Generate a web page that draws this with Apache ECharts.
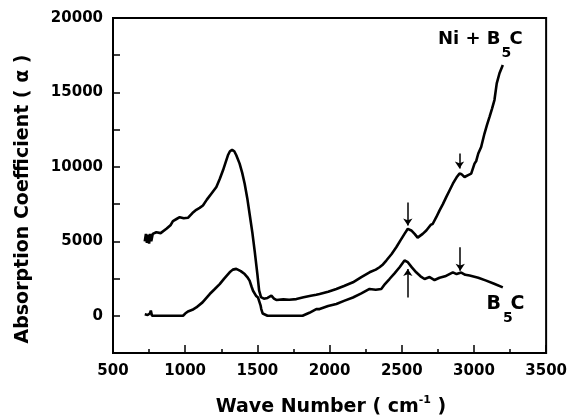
<!DOCTYPE html>
<html>
<head>
<meta charset="utf-8">
<script src="https://cdn.jsdelivr.net/npm/echarts@6/dist/echarts.min.js"></script>
<style>
html,body{margin:0;padding:0;background:#fff;}
#chart{width:570px;height:419px;}
</style>
</head>
<body>
<div id="chart"></div>
<script>
// ---- data ----
const xTicks = [500, 1000, 1500, 2000, 2500, 3000, 3500];
const yTicks = [0, 5000, 10000, 15000, 20000];

// Ni + B5C
const niX = [720,728,735,742,750,757,765,775,800,830,870,900,915,940,962,990,1019,1050,1077,1100,1123,1150,1181,1216,1240,1262,1280,1296,1310,1325,1340,1354,1377,1395,1412,1430,1446,1465,1481,1500,1512,1525,1545,1570,1597,1615,1631,1680,1720,1770,1820,1870,1908,1931,1990,2047,2100,2162,2220,2277,2320,2346,2370,2393,2430,2462,2490,2519,2542,2566,2589,2610,2623,2645,2670,2700,2715,2739,2762,2785,2808,2830,2854,2880,2900,2915,2935,2960,2981,3004,3016,3030,3050,3073,3090,3108,3125,3142,3158,3177,3200];
const niY = [5000,5500,4900,5450,4850,5500,5000,5500,5610,5550,5840,6100,6360,6500,6620,6550,6580,6900,7120,7250,7410,7800,8200,8650,9200,9770,10300,10780,11050,11150,11050,10780,10220,9600,8870,7900,6850,5600,4380,2800,1700,1250,1150,1200,1350,1150,1060,1100,1080,1120,1250,1350,1410,1460,1620,1800,2000,2250,2600,2920,3100,3260,3450,3710,4150,4600,5050,5500,5840,5730,5500,5250,5280,5500,5730,6100,6180,6620,7080,7500,7970,8400,8870,9300,9550,9500,9320,9450,9550,10220,10400,10900,11340,12240,12800,13360,13900,14490,15610,16290,16850];

// B5C
const bX = [720,740,755,762,770,800,985,1000,1019,1050,1077,1120,1170,1200,1239,1270,1308,1330,1354,1385,1412,1430,1446,1460,1470,1490,1504,1515,1522,1527,1537,1550,1570,1700,1813,1860,1908,1931,1990,2047,2100,2162,2220,2277,2320,2358,2385,2415,2450,2485,2519,2542,2570,2600,2630,2658,2693,2727,2762,2800,2854,2880,2912,2940,2970,3030,3085,3140,3200];
const bY = [100,50,150,350,0,0,0,150,290,400,560,900,1460,1750,2130,2500,2920,3100,3150,3000,2800,2600,2360,1950,1680,1350,1230,1150,700,450,150,40,0,0,0,200,450,450,650,790,1000,1230,1500,1800,1750,1800,2150,2470,2850,3260,3710,3600,3250,2920,2650,2470,2600,2400,2550,2650,2920,2800,2900,2750,2700,2550,2360,2150,1910];

// arrows: [x, tailY, tipY]
const niArrows = [[2542, 7600, 6060], [2900, 10900, 9900]];
const bArrows = [[2542, 1230, 3150], [2905, 4600, 3030]];

const FONT = 'DejaVu Sans';
const pairs = (xs, ys) => xs.map((x, i) => [x, ys[i]]);
const arrowLines = (arr) => arr.map(a => [{coord: [a[0], a[1]]}, {coord: [a[0], a[2]]}]);

const chart = echarts.init(document.getElementById('chart'), null, {renderer: 'canvas'});

const markLineCfg = (arr) => ({
  silent: true,
  animation: false,
  symbol: ['none', 'arrow'],
  symbolSize: 7,
  label: {show: false},
  lineStyle: {color: '#000', width: 1.5, type: 'solid'},
  emphasis: {disabled: true},
  data: arrowLines(arr)
});

chart.setOption({
  backgroundColor: '#fff',
  animation: false,
  grid: {left: 113, right: 23, top: 18, bottom: 66, show: true, borderColor: '#000', borderWidth: 2, backgroundColor: 'transparent'},
  xAxis: {
    type: 'value', min: 500, max: 3500, interval: 500,
    axisLine: {show: true, onZero: false, lineStyle: {color: '#000', width: 2}},
    axisTick: {show: true, inside: true, length: 8, lineStyle: {color: '#000', width: 1.5}},
    minorTick: {show: true, splitNumber: 2, length: 4, lineStyle: {color: '#000', width: 1.5}},
    splitLine: {show: false},
    axisLabel: {
      margin: 11, color: '#000', fontFamily: FONT, fontWeight: 'bold', fontSize: 15,
      formatter: v => xTicks.includes(v) ? String(v) : ''
    }
  },
  yAxis: {
    type: 'value', min: -2500, max: 20000, interval: 2500,
    axisLine: {show: true, onZero: false, lineStyle: {color: '#000', width: 2}},
    axisTick: {show: true, inside: true, length: 7, lineStyle: {color: '#000', width: 1.5}},
    splitLine: {show: false},
    axisLabel: {
      margin: 10, color: '#000', fontFamily: FONT, fontWeight: 'bold', fontSize: 15,
      formatter: v => yTicks.includes(v) ? String(v) : ''
    }
  },
  series: [
    {
      name: 'Ni + B5C', type: 'line', data: pairs(niX, niY), showSymbol: false, symbol: 'none',
      lineStyle: {color: '#000', width: 2.6}, itemStyle: {color: '#000'}, silent: true,
      markLine: markLineCfg(niArrows)
    },
    {
      name: 'B5C', type: 'line', data: pairs(bX, bY), showSymbol: false, symbol: 'none',
      lineStyle: {color: '#000', width: 2.6}, itemStyle: {color: '#000'}, silent: true,
      markLine: markLineCfg(bArrows)
    }
  ],
  graphic: [
    {type: 'text', x: 23, y: 199, rotation: Math.PI / 2,
      style: {text: 'Absorption Coefficient ( α )', font: 'bold 19px "DejaVu Sans"', fill: '#000', align: 'center', verticalAlign: 'middle'}},
    {type: 'text', x: 331, y: 406,
      style: {
        text: '{a|Wave Number ( cm}{s|-1}{a| )}',
        align: 'center', verticalAlign: 'middle',
        rich: {
          a: {fontFamily: FONT, fontWeight: 'bold', fontSize: 19, lineHeight: 22, fill: '#000', color: '#000', verticalAlign: 'bottom'},
          s: {fontFamily: FONT, fontWeight: 'bold', fontSize: 11, lineHeight: 11, fill: '#000', color: '#000', verticalAlign: 'top'}
        }
      }},
    {type: 'text', x: 500.5, y: 39,
      style: {text: 'Ni + B', font: 'bold 18px "DejaVu Sans"', fill: '#000', align: 'right', verticalAlign: 'middle'}},
    {type: 'text', x: 501.5, y: 53,
      style: {text: '5', font: 'bold 14px "DejaVu Sans"', fill: '#000', align: 'left', verticalAlign: 'middle'}},
    {type: 'text', x: 509.5, y: 39,
      style: {text: 'C', font: 'bold 18px "DejaVu Sans"', fill: '#000', align: 'left', verticalAlign: 'middle'}},
    {type: 'text', x: 486.5, y: 304,
      style: {text: 'B', font: 'bold 19px "DejaVu Sans"', fill: '#000', align: 'left', verticalAlign: 'middle'}},
    {type: 'text', x: 503, y: 318.5,
      style: {text: '5', font: 'bold 14px "DejaVu Sans"', fill: '#000', align: 'left', verticalAlign: 'middle'}},
    {type: 'text', x: 510.5, y: 304,
      style: {text: 'C', font: 'bold 19px "DejaVu Sans"', fill: '#000', align: 'left', verticalAlign: 'middle'}}
  ]
});
</script>
</body>
</html>
